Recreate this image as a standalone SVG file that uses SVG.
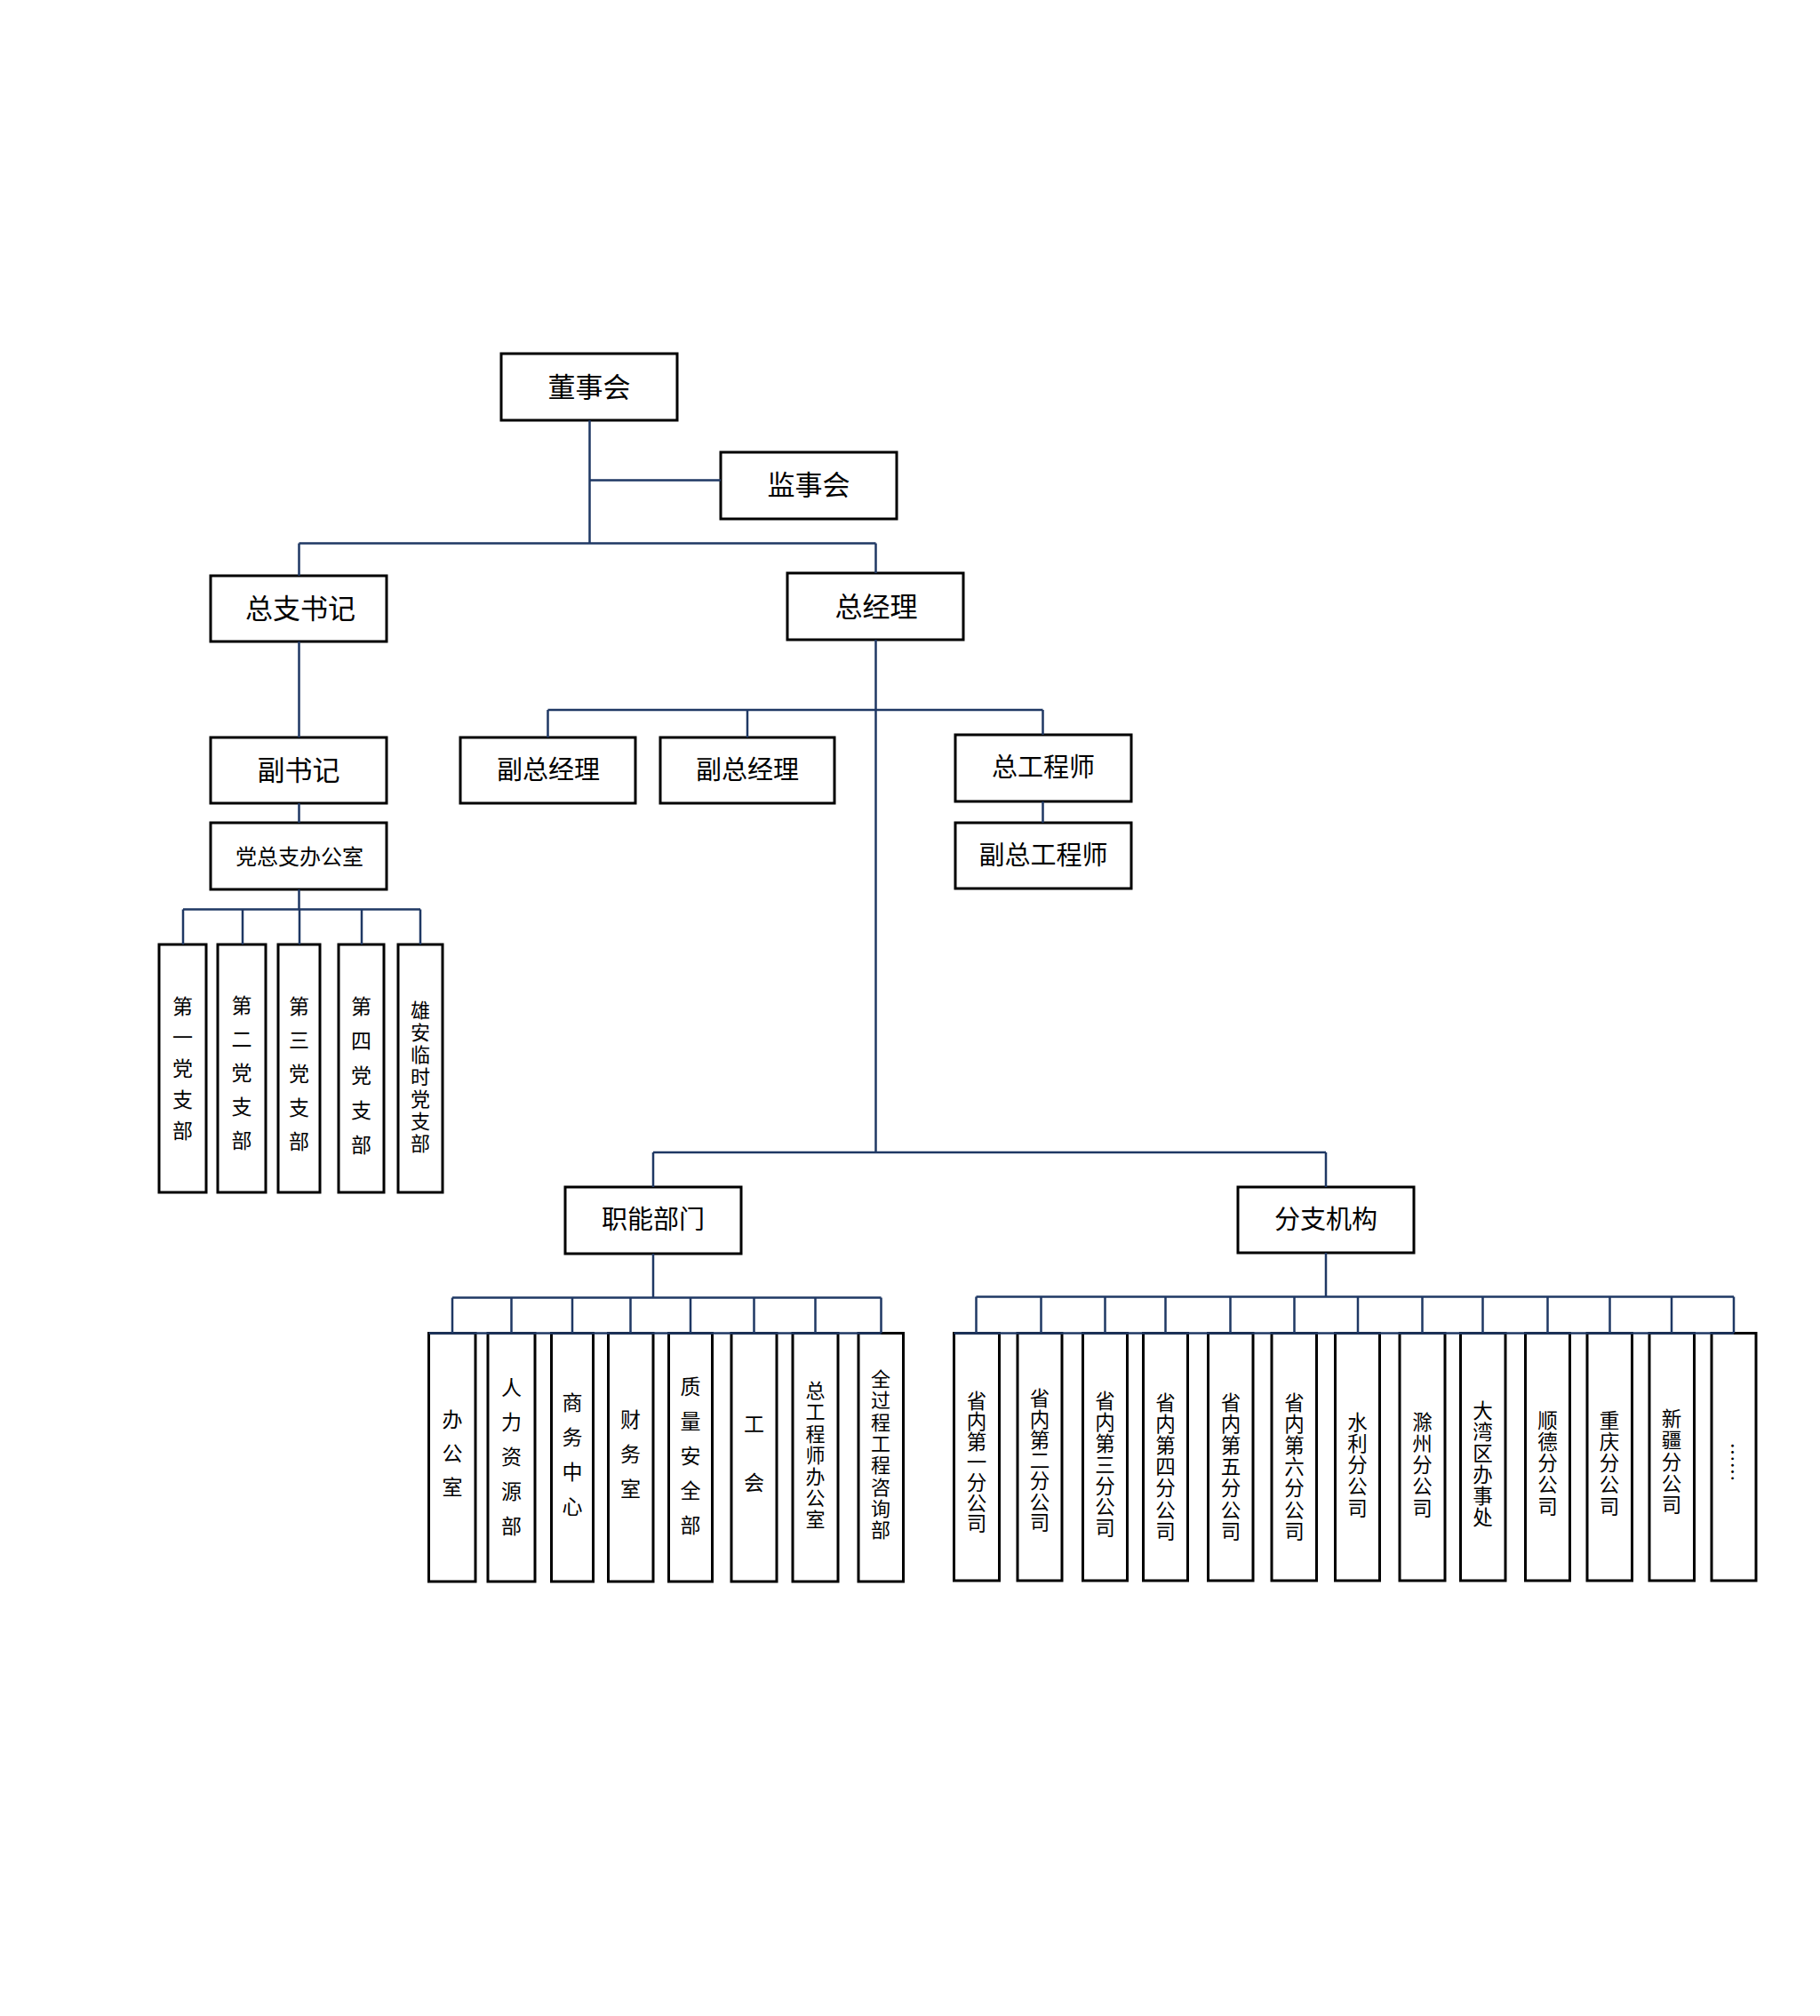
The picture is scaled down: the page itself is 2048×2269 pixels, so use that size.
<svg xmlns="http://www.w3.org/2000/svg" width="2048" height="2269" viewBox="0 0 2048 2269">
<style>
.box{fill:#fff;stroke:#000;stroke-width:3}
.ln{stroke:#1f3864;stroke-width:2.5;fill:none}
.t{font-family:"Noto Sans CJK SC","Liberation Sans",sans-serif;fill:#000;text-anchor:middle;dominant-baseline:central}
.f31{font-size:31px}
.f29{font-size:29px}
.f24{font-size:24px}
.vt{writing-mode:vertical-rl}
.v{font-size:23px}
.vs{font-size:22px}
.vb{font-size:22.5px}
</style>
<rect width="2048" height="2269" fill="#fff"/>
<g id="nodes">
<g id="n-dongshihui"><rect class="box" x="564" y="398" width="198" height="75"/><text class="t f31" x="663" y="433">董事会</text></g>
<g id="n-jianshihui"><rect class="box" x="811" y="509" width="198" height="75"/><text class="t f31" x="910" y="543">监事会</text></g>
<g id="n-zongzhishuji"><rect class="box" x="237" y="648" width="198" height="74"/><text class="t f31" x="338" y="682">总支书记</text></g>
<g id="n-zongjingli"><rect class="box" x="886" y="645" width="198" height="75"/><text class="t f31" x="986" y="680">总经理</text></g>
<g id="n-fushuji"><rect class="box" x="237" y="830" width="198" height="74"/><text class="t f31" x="336" y="864">副书记</text></g>
<g id="n-dangzongzhi"><rect class="box" x="237" y="926" width="198" height="75"/><text class="t f24" x="337" y="962">党总支办公室</text></g>
<g id="n-fuzongjingli1"><rect class="box" x="518" y="830" width="197" height="74"/><text class="t f29" x="617" y="864">副总经理</text></g>
<g id="n-fuzongjingli2"><rect class="box" x="743" y="830" width="196" height="74"/><text class="t f29" x="841" y="864">副总经理</text></g>
<g id="n-zonggongchengshi"><rect class="box" x="1075" y="827" width="198" height="75"/><text class="t f29" x="1174" y="861">总工程师</text></g>
<g id="n-fuzonggongchengshi"><rect class="box" x="1075" y="926" width="198" height="74"/><text class="t f29" x="1174" y="960">副总工程师</text></g>
<g id="n-zhineng"><rect class="box" x="636" y="1336" width="198" height="75"/><text class="t f29" x="735" y="1370">职能部门</text></g>
<g id="n-fenzhi"><rect class="box" x="1393" y="1336" width="198" height="74"/><text class="t f29" x="1492" y="1370">分支机构</text></g>

<g id="p1"><rect class="box" x="179" y="1063" width="53" height="279"/><text class="t vt v" x="205.5" y="1208" letter-spacing="12">第一党支部</text></g>
<g id="p2"><rect class="box" x="245" y="1063" width="54" height="279"/><text class="t vt v" x="272" y="1214.5" letter-spacing="15">第二党支部</text></g>
<g id="p3"><rect class="box" x="313" y="1063" width="47" height="279"/><text class="t vt v" x="336.5" y="1215.5" letter-spacing="15">第三党支部</text></g>
<g id="p4"><rect class="box" x="381" y="1063" width="51" height="279"/><text class="t vt v" x="406.5" y="1218" letter-spacing="16">第四党支部</text></g>
<g id="p5"><rect class="box" x="448" y="1063" width="50" height="279"/><text class="t vt vs" x="473" y="1213.5" letter-spacing="3">雄安临时党支部</text></g>

<g id="d1"><rect class="box" x="482.5" y="1500.5" width="52.5" height="279.5"/><text class="t vt v" x="509" y="1642.5" letter-spacing="15">办公室</text></g>
<g id="d2"><rect class="box" x="549" y="1500.5" width="53" height="279.5"/><text class="t vt v" x="575.5" y="1647" letter-spacing="16">人力资源部</text></g>
<g id="d3"><rect class="box" x="620.5" y="1500.5" width="47" height="279.5"/><text class="t vt v" x="644" y="1644.5" letter-spacing="16">商务中心</text></g>
<g id="d4"><rect class="box" x="684.5" y="1500.5" width="50.5" height="279.5"/><text class="t vt v" x="709.5" y="1644" letter-spacing="16">财务室</text></g>
<g id="d5"><rect class="box" x="752.5" y="1500.5" width="49" height="279.5"/><text class="t vt v" x="777" y="1646" letter-spacing="16">质量安全部</text></g>
<g id="d6"><rect class="box" x="823" y="1500.5" width="51" height="279.5"/><text class="t vt v" x="848.5" y="1656.5" letter-spacing="43">工会</text></g>
<g id="d7"><rect class="box" x="892" y="1500.5" width="51" height="279.5"/><text class="t vt vs" x="917.5" y="1638.5" letter-spacing="2.2">总工程师办公室</text></g>
<g id="d8"><rect class="box" x="966" y="1500.5" width="50.5" height="279.5"/><text class="t vt vs" x="991" y="1638" letter-spacing="2.3">全过程工程咨询部</text></g>

<g id="b1"><rect class="box" x="1073.5" y="1500.5" width="51" height="278.5"/><text class="t vt vb" x="1099" y="1645.5" letter-spacing="0.5">省内第一分公司</text></g>
<g id="b2"><rect class="box" x="1145" y="1500.5" width="50" height="278.5"/><text class="t vt vb" x="1170" y="1644" letter-spacing="0.8">省内第二分公司</text></g>
<g id="b3"><rect class="box" x="1218.5" y="1500.5" width="50" height="278.5"/><text class="t vt vb" x="1243.5" y="1649" letter-spacing="1.3">省内第三分公司</text></g>
<g id="b4"><rect class="box" x="1286.5" y="1500.5" width="50" height="278.5"/><text class="t vt vb" x="1311.5" y="1651.5" letter-spacing="1.7">省内第四分公司</text></g>
<g id="b5"><rect class="box" x="1359.5" y="1500.5" width="50.5" height="278.5"/><text class="t vt vb" x="1385" y="1651.5" letter-spacing="1.7">省内第五分公司</text></g>
<g id="b6"><rect class="box" x="1431" y="1500.5" width="50.5" height="278.5"/><text class="t vt vb" x="1456.5" y="1651.5" letter-spacing="1.7">省内第六分公司</text></g>
<g id="b7"><rect class="box" x="1502.5" y="1500.5" width="50" height="278.5"/><text class="t vt vb" x="1527.5" y="1649.5" letter-spacing="1.75">水利分公司</text></g>
<g id="b8"><rect class="box" x="1575" y="1500.5" width="51" height="278.5"/><text class="t vt vb" x="1600.5" y="1649.5" letter-spacing="1.75">滁州分公司</text></g>
<g id="b9"><rect class="box" x="1643.5" y="1500.5" width="50.5" height="278.5"/><text class="t vt vb" x="1668.5" y="1648" letter-spacing="1.5">大湾区办事处</text></g>
<g id="b10"><rect class="box" x="1716.5" y="1500.5" width="50" height="278.5"/><text class="t vt vb" x="1741.5" y="1647.5" letter-spacing="1.75">顺德分公司</text></g>
<g id="b11"><rect class="box" x="1786" y="1500.5" width="50.5" height="278.5"/><text class="t vt vb" x="1811" y="1647.5" letter-spacing="1.75">重庆分公司</text></g>
<g id="b12"><rect class="box" x="1856" y="1500.5" width="50.5" height="278.5"/><text class="t vt vb" x="1881" y="1646" letter-spacing="1.75">新疆分公司</text></g>
<g id="b13"><rect class="box" x="1926" y="1500.5" width="50" height="278.5"/><text class="t vt vs" x="1951.5" y="1645.5">……</text></g>
</g>
<g id="connectors" class="ln">
<path d="M663.5 473V611.5M663.5 540.5H811M336.5 611.5H985.5M336.5 611.5V648M985.5 611.5V645"/>
<path d="M336.5 722V830M336.5 904V926M336.5 1001V1023.5M206 1023.5H473M206 1023.5V1063M273 1023.5V1063M337 1023.5V1063M407 1023.5V1063M473 1023.5V1063"/>
<path d="M985.5 720V1297M616.5 799H1173.5M616.5 799V830M841 799V830M1173.5 799V827M1173.5 902V926"/>
<path d="M735 1297H1492M735 1297V1336M1492 1297V1336"/>
<path d="M735 1411V1460.5M509 1460.5H991.5M509 1460.5V1500.5M575.5 1460.5V1500.5M644 1460.5V1500.5M709.5 1460.5V1500.5M777 1460.5V1500.5M848.5 1460.5V1500.5M917.5 1460.5V1500.5M991.5 1460.5V1500.5M482.5 1500.5H991.5"/>
<path d="M1492 1410V1459.5M1098.5 1459.5H1951M1098.5 1459.5V1500.5M1171.5 1459.5V1500.5M1243.5 1459.5V1500.5M1311.5 1459.5V1500.5M1384.5 1459.5V1500.5M1456.5 1459.5V1500.5M1528 1459.5V1500.5M1600.5 1459.5V1500.5M1668.5 1459.5V1500.5M1741.5 1459.5V1500.5M1811.5 1459.5V1500.5M1881 1459.5V1500.5M1951 1459.5V1500.5M1073.5 1500.5H1951"/>
</g>
</svg>
